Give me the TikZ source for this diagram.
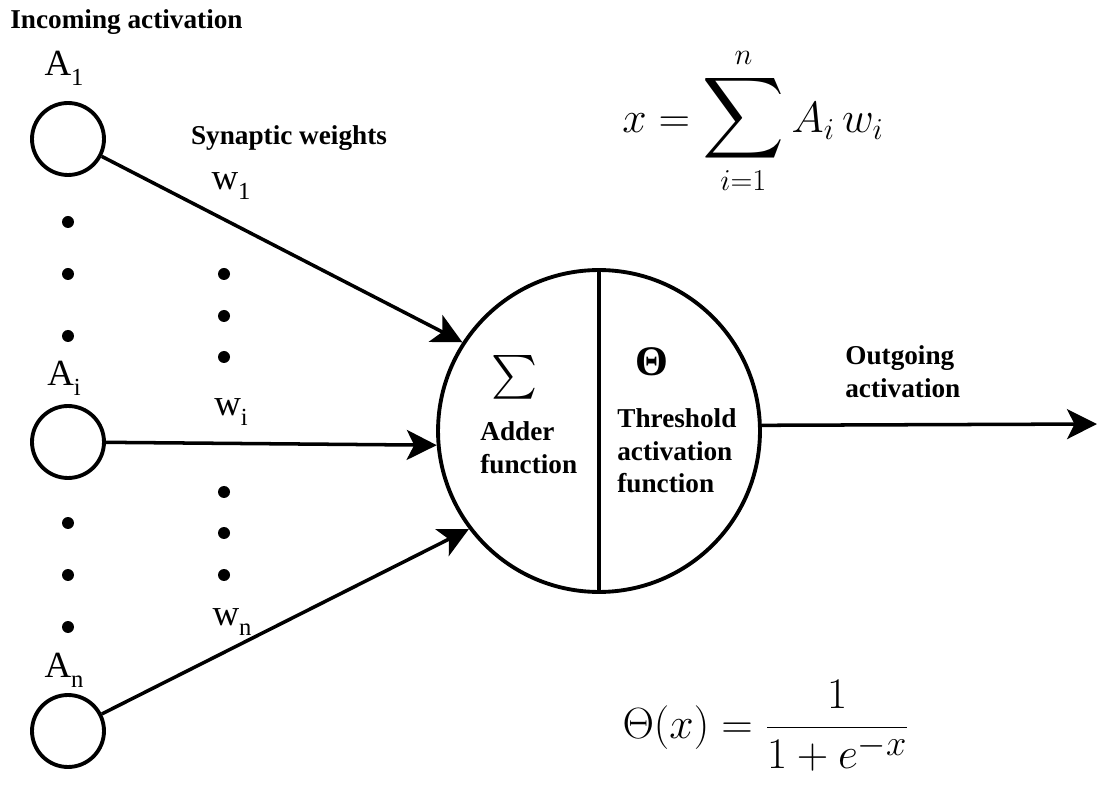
\documentclass[tikz,border=0pt]{standalone}
\usepackage{fontspec}
\setmainfont{Liberation Serif}
\usepackage{amsmath}
\usepackage{graphicx}
\usepackage{tikz}
\usetikzlibrary{arrows.meta, positioning}
\tikzstyle{unit} = [circle, draw=black, line width=2.2pt, minimum size=1.44cm, inner sep=0pt]
\tikzstyle{neuronbody} = [circle, draw=black, line width=2.2pt, minimum size=6.44cm, inner sep=0pt]
\tikzstyle{dot} = [circle, fill=black, minimum size=0.24cm, inner sep=0pt]
\tikzstyle{caption} = [font=\fontsize{15.5}{18.7}\selectfont\bfseries, inner sep=0pt, align=left]
\tikzstyle{sym} = [font=\fontsize{21}{24}\selectfont, inner sep=0pt]
\tikzstyle{link} = [line width=2pt, -{Stealth[length=6mm,width=6mm,inset=1.5mm]}]
\newcommand{\sublabel}[2]{#1\raisebox{-0.6ex}{\fontsize{14}{14}\selectfont #2}}

\begin{document}
\begin{tikzpicture}[x=0.02cm, y=-0.02cm]
\useasboundingbox (0,0) rectangle (1098,786);

\node[caption, anchor=west] (incoming) at (10,22) {Incoming activation};

\node[unit] (a1) at (68,139) {};
\node[unit] (ai) at (68,442) {};
\node[unit] (an) at (68,731) {};
\node[sym] (a1lbl) at (64,68) {\sublabel{A}{1}};
\node[sym] (ailbl) at (64,378) {\sublabel{A}{i}};
\node[sym] (anlbl) at (64,670) {\sublabel{A}{n}};

\foreach \y [count=\k] in {222,274,336,523,575,627}
  \node[dot] (ldot\k) at (68,\y) {};
\foreach \y [count=\k] in {274,316,357,492,533,575}
  \node[dot] (wdot\k) at (224,\y) {};

\node[caption] (synaptic) at (289,138) {Synaptic weights};
\node[sym] (w1lbl) at (231,186) {\sublabel{w}{1}};
\node[sym] (wilbl) at (231,412) {\sublabel{w}{i}};
\node[sym] (wnlbl) at (232,622) {\sublabel{w}{n}};

\node[neuronbody] (neuron) at (599,431) {};
\draw[line width=2.2pt] (neuron.north) -- (neuron.south);

\node[inner sep=0pt, font=\fontsize{25}{27}\selectfont] (sigma) at (515,377) {$\sum$};
\node[caption, anchor=north west] (adder) at (480,421) {Adder\\function};
\node[inner sep=0pt, font=\fontsize{24}{26}\selectfont\bfseries] (theta) at (652,362) {Θ};
\node[caption, anchor=north west] (threshold) at (617,408) {Threshold\\activation\\function};

\draw[link] (a1) -- (neuron.147);
\draw[link] (ai) -- (neuron.185);
\draw[link] (an) -- (neuron.217);

\coordinate (out) at (1097,424);
\draw[link] (neuron.2.5) -- (out);
\node[caption, anchor=west] (outgoing) at (845,372) {Outgoing\\activation};

\node[inner sep=0pt] (sumeq) at (753,121) {\fontsize{25}{30}\selectfont $\displaystyle x=\mathop{\scalebox{1.3}{$\displaystyle\sum$}}\limits_{i=1}^{n} A_i\,w_i$};
\node[inner sep=0pt] (sigmoid) at (766,726) {\fontsize{29}{34}\selectfont $\displaystyle \Theta(x)=\frac{1}{1+e^{-x}}$};
\end{tikzpicture}
\end{document}
